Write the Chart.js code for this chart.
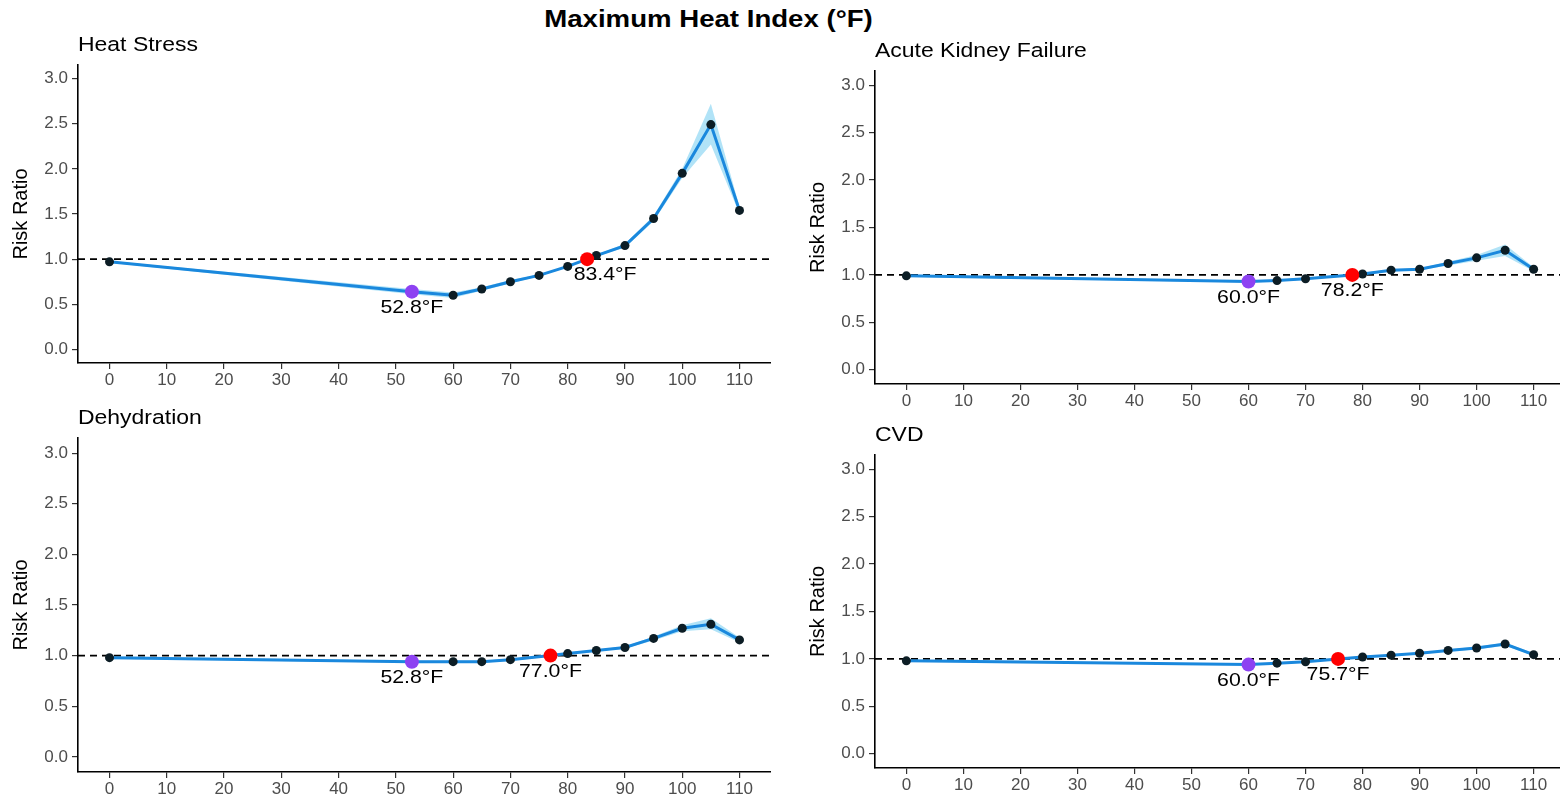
<!DOCTYPE html>
<html>
<head>
<meta charset="utf-8">
<title>Maximum Heat Index (°F)</title>
<script src="https://cdn.jsdelivr.net/npm/chart.js@4.4.1/dist/chart.umd.min.js"></script>
<style>
  html, body { margin: 0; padding: 0; background: #fff; }
  body { width: 1560px; height: 796px; overflow: hidden; position: relative;
         font-family: "Liberation Sans", Arial, sans-serif; }
  .panel { position: absolute; }
  #mainTitle { position: absolute; left: 0; top: 8px; width: 1417px; text-align: center;
               font-weight: bold; font-size: 23px; line-height: 23px; color: #000;
               transform: scaleX(1.2); transform-origin: 708.5px 0; }
</style>
</head>
<body>
<div id="mainTitle">Maximum Heat Index (°F)</div>
<div class="panel" style="left:0;top:25px;width:771px;height:368px"><canvas id="heatStress"></canvas></div>
<div class="panel" style="left:797px;top:31px;width:768px;height:383px"><canvas id="kidney"></canvas></div>
<div class="panel" style="left:0;top:398px;width:771px;height:404px"><canvas id="dehydration"></canvas></div>
<div class="panel" style="left:797px;top:415px;width:768px;height:383px"><canvas id="cvd"></canvas></div>

<script>
// axes shared by all four panels
const tempTicks = [0, 10, 20, 30, 40, 50, 60, 70, 80, 90, 100, 110];
const riskTicks = [0, 0.5, 1, 1.5, 2, 2.5, 3];
const tempMin = -5.5, tempMax = 115.5;
const riskMin = -0.15, riskMax = 3.15;

// Heat Stress
const heatTemp = [0, 52.8, 60, 65, 70, 75, 80, 83.4, 85, 90, 95, 100, 105, 110];
const heatRR   = [0.97, 0.64, 0.60, 0.67, 0.75, 0.82, 0.92, 1.00, 1.04, 1.15, 1.45, 1.95, 2.49, 1.54];
const heatLow  = [0.96, 0.61, 0.57, 0.65, 0.73, 0.81, 0.91, 0.99, 1.03, 1.13, 1.42, 1.90, 2.27, 1.50];
const heatHigh = [0.98, 0.67, 0.63, 0.69, 0.77, 0.83, 0.93, 1.01, 1.05, 1.17, 1.48, 2.00, 2.72, 1.58];
const heatMMT = 52.8, heatCut = 83.4;

// Acute Kidney Failure
const akfTemp = [0, 60, 65, 70, 78.2, 80, 85, 90, 95, 100, 105, 110];
const akfRR   = [0.99, 0.93, 0.94, 0.96, 1.00, 1.01, 1.05, 1.06, 1.12, 1.18, 1.26, 1.06];
const akfLow  = [0.98, 0.92, 0.93, 0.95, 0.99, 1.00, 1.04, 1.05, 1.10, 1.15, 1.20, 1.04];
const akfHigh = [1.00, 0.94, 0.95, 0.97, 1.01, 1.02, 1.06, 1.07, 1.14, 1.21, 1.32, 1.08];
const akfMMT = 60.0, akfCut = 78.2;

// Dehydration
const dehyTemp = [0, 52.8, 60, 65, 70, 77.0, 80, 85, 90, 95, 100, 105, 110];
const dehyRR   = [0.98, 0.94, 0.94, 0.94, 0.96, 1.00, 1.02, 1.05, 1.08, 1.17, 1.27, 1.31, 1.155];
const dehyLow  = [0.97, 0.93, 0.93, 0.93, 0.95, 0.99, 1.01, 1.04, 1.07, 1.15, 1.24, 1.26, 1.13];
const dehyHigh = [0.99, 0.95, 0.95, 0.95, 0.97, 1.01, 1.03, 1.06, 1.09, 1.19, 1.30, 1.37, 1.18];
const dehyMMT = 52.8, dehyCut = 77.0;

// CVD
const cvdTemp = [0, 60, 65, 70, 75.7, 80, 85, 90, 95, 100, 105, 110];
const cvdRR   = [0.98, 0.94, 0.955, 0.97, 1.00, 1.02, 1.04, 1.06, 1.09, 1.115, 1.157, 1.045];
const cvdLow  = [0.975, 0.935, 0.95, 0.965, 0.995, 1.015, 1.035, 1.05, 1.08, 1.10, 1.14, 1.03];
const cvdHigh = [0.985, 0.945, 0.96, 0.975, 1.005, 1.025, 1.045, 1.07, 1.10, 1.13, 1.17, 1.06];
const cvdMMT = 60.0, cvdCut = 75.7;

const FONT = '"Liberation Sans", Arial, sans-serif';
const LINE = '#1a88dd';
const BAND = 'rgba(125, 208, 242, 0.6)';
const DOT = '#0c1d25';
const PURPLE = '#8d42f2';
const RED = '#ff0000';
const TICK = '#4d4d4d';

const pts = (xs, ys) => xs.map((x, i) => ({ x: x, y: ys[i] }));
const rrAt = (xs, ys, t) => ys[xs.indexOf(t)];

function panel(id, title, temp, rr, low, high, mmt, cut, cutShift) {
  const marks = [
    { t: mmt, v: rrAt(temp, rr, mmt), dx: 0 },
    { t: cut, v: rrAt(temp, rr, cut), dx: cutShift }
  ];

  // panel title plus the °F labels under the two highlighted points
  const panelText = {
    id: 'panelText',
    afterDatasetsDraw(chart) {
      const { ctx, chartArea, scales } = chart;
      ctx.save();
      ctx.fillStyle = '#000';
      ctx.font = '20.5px ' + FONT;
      ctx.textAlign = 'left';
      ctx.textBaseline = 'alphabetic';
      ctx.translate(chartArea.left, chartArea.top - 14);
      ctx.scale(1.12, 1);
      ctx.fillText(title, 0, 0);
      ctx.restore();

      ctx.font = '19px ' + FONT;
      marks.forEach(m => {
        const px = scales.x.getPixelForValue(m.t);
        const py = scales.y.getPixelForValue(m.v);
        ctx.save();
        ctx.fillStyle = '#000';
        ctx.textAlign = 'center';
        ctx.textBaseline = 'middle';
        ctx.translate(px + m.dx, py + 16);
        ctx.scale(1.12, 1);
        ctx.fillText(m.t.toFixed(1) + '°F', 0, 0);
        ctx.restore();
      });
    }
  };

  new Chart(document.getElementById(id), {
    type: 'line',
    data: {
      datasets: [
        { data: pts(temp, low), borderWidth: 0, pointRadius: 0, fill: false, order: 6 },
        { data: pts(temp, high), borderWidth: 0, pointRadius: 0, fill: '-1',
          backgroundColor: BAND, order: 5 },
        { data: [{ x: tempMin, y: 1 }, { x: tempMax, y: 1 }], borderColor: '#000',
          borderWidth: 1.8, borderDash: [7, 5], pointRadius: 0, order: 4 },
        { data: pts(temp, rr), borderColor: LINE, borderWidth: 3, pointRadius: 0, order: 3 },
        { data: pts(temp, rr).filter(p => p.x !== mmt && p.x !== cut), showLine: false,
          pointRadius: 4.5, backgroundColor: DOT, borderWidth: 0, order: 2 },
        { data: [{ x: mmt, y: marks[0].v }], showLine: false, pointRadius: 7,
          backgroundColor: PURPLE, borderWidth: 0, order: 1 },
        { data: [{ x: cut, y: marks[1].v }], showLine: false, pointRadius: 7,
          backgroundColor: RED, borderWidth: 0, order: 0 }
      ]
    },
    options: {
      responsive: true,
      maintainAspectRatio: false,
      animation: false,
      layout: { padding: { top: 40, left: 0, right: 0, bottom: 0 }, autoPadding: false },
      plugins: { legend: { display: false }, tooltip: { enabled: false } },
      scales: {
        x: {
          type: 'linear', min: tempMin, max: tempMax,
          afterBuildTicks: s => { s.ticks = tempTicks.map(v => ({ value: v })); },
          afterFit: s => { s.height = 30; },
          ticks: { color: TICK, font: { size: 17, family: FONT }, padding: 1,
                   maxRotation: 0, autoSkip: false },
          grid: { drawOnChartArea: false, tickLength: 6, color: '#333', lineWidth: 1.2 },
          border: { color: '#000', width: 1.6 }
        },
        y: {
          type: 'linear', min: riskMin, max: riskMax,
          afterBuildTicks: s => { s.ticks = riskTicks.map(v => ({ value: v })); },
          afterFit: s => { s.width = 78; },
          ticks: { color: TICK, font: { size: 17, family: FONT }, padding: 4,
                   callback: v => v.toFixed(1) },
          grid: { drawOnChartArea: false, tickLength: 6, color: '#333', lineWidth: 1.2 },
          border: { color: '#000', width: 1.6 },
          title: { display: true, text: 'Risk Ratio', color: '#000',
                   font: { size: 20, family: FONT }, padding: { top: 9, bottom: 0 } }
        }
      }
    },
    plugins: [panelText]
  });
}

panel('heatStress', 'Heat Stress', heatTemp, heatRR, heatLow, heatHigh, heatMMT, heatCut, 18);
panel('kidney', 'Acute Kidney Failure', akfTemp, akfRR, akfLow, akfHigh, akfMMT, akfCut, 0);
panel('dehydration', 'Dehydration', dehyTemp, dehyRR, dehyLow, dehyHigh, dehyMMT, dehyCut, 0);
panel('cvd', 'CVD', cvdTemp, cvdRR, cvdLow, cvdHigh, cvdMMT, cvdCut, 0);
</script>
</body>
</html>
